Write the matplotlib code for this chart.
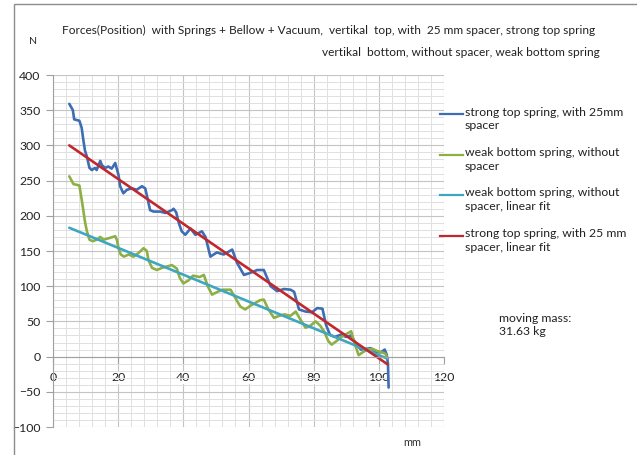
import matplotlib.pyplot as plt
from matplotlib.lines import Line2D
from matplotlib.patches import Rectangle
from matplotlib.ticker import MultipleLocator

# strong top spring, with 25mm spacer (measured)
strong_x = [5.0, 5.5, 6.1, 6.5, 7.3, 8.1, 8.8, 9.3, 9.8, 10.4, 11.2, 11.9, 12.9, 13.4,
            14.5, 15.0, 16.0, 17.0, 18.0, 19.1, 20.1, 20.6, 21.6, 22.7, 24.2, 25.7,
            27.3, 28.3, 29.0, 29.8, 30.9, 32.9, 34.5, 36.5, 37.0, 37.8, 38.6, 39.5,
            40.6, 42.2, 43.7, 45.7, 46.8, 48.3, 50.3, 52.4, 55.0, 56.5, 58.6, 60.6,
            62.7, 64.7, 66.8, 68.8, 70.9, 72.9, 74.0, 75.5, 77.5, 79.5, 81.1, 82.7,
            83.8, 85.0, 86.5, 88.3, 90.0, 91.5, 93.0, 94.5, 96.0, 97.5, 99.0, 100.6,
            101.8, 102.4, 102.8, 103.0]
strong_y = [359, 355, 350, 337, 336, 335, 325, 308, 293, 284, 268, 265, 268, 265,
            278, 272, 268, 270, 267, 275, 258, 242, 232, 237, 239, 237,
            242, 239, 225, 208, 206, 206, 204, 208, 210, 205, 190, 178,
            173, 182, 173, 178, 170, 142, 148, 145, 152, 133, 116, 119,
            123, 123, 100, 93, 96, 95, 92, 67, 64, 63, 69, 68,
            45, 31, 28, 31, 28, 30, 18, 10, 11, 12, 7, 6,
            10, 3, -10, -44]

# weak bottom spring, without spacer (measured)
weak_x = [5.0, 6.3, 7.3, 8.1, 8.8, 9.3, 9.8, 10.4, 11.2, 12.2, 13.4, 14.5, 15.5, 17.0,
          19.1, 19.6, 20.1, 20.8, 21.8, 23.2, 24.7, 26.2, 27.8, 28.8, 29.3, 30.4,
          31.9, 33.4, 35.0, 36.5, 38.0, 38.9, 40.0, 41.5, 43.0, 45.0, 46.3, 47.5,
          48.8, 50.5, 52.0, 54.5, 56.0, 57.5, 59.0, 60.5, 62.0, 63.5, 64.7, 66.0,
          67.8, 69.5, 71.0, 72.9, 74.5, 76.0, 77.5, 79.0, 80.6, 82.0, 83.2, 84.5,
          85.5, 87.0, 88.5, 90.0, 91.5, 92.5, 93.8, 95.0, 96.5, 98.0, 99.5, 101.0,
          102.0, 102.7]
weak_y = [256, 245, 244, 243, 223, 208, 192, 178, 166, 164, 166, 170, 166, 168,
          171, 166, 154, 145, 142, 145, 142, 147, 154, 150, 137, 126,
          123, 126, 128, 130, 125, 112, 104, 108, 115, 113, 116, 100,
          88, 92, 95, 95, 83, 71, 67, 72, 76, 80, 81, 68,
          55, 58, 60, 58, 64, 52, 41, 44, 50, 44, 36, 22,
          17, 22, 28, 32, 36, 20, 2, 6, 10, 11, 8, 6,
          4, -2]

# linear fits
fit_x = [5.0, 102.7]
weak_fit = [183, -3]
strong_fit = [300, -11]

labels = ['strong top spring, with 25mm\nspacer',
          'weak bottom spring, without\nspacer',
          'weak bottom spring, without\nspacer, linear fit',
          'strong top spring, with 25 mm\nspacer, linear fit']
colors = ['#3F6DB3', '#8DB045', '#3FA6C0', '#C0282D']

plt.rcParams['font.family'] = ['Lato', 'DejaVu Sans']

W, H = 637, 455
fig = plt.figure(figsize=(W / 100, H / 100), dpi=100)
ax = fig.add_axes([53 / W, 1 - 427 / H, 391 / W, 352 / H])

kw = dict(lw=1.9, solid_joinstyle='round', solid_capstyle='round')
ax.plot(strong_x, strong_y, color=colors[0], **kw)
ax.plot(weak_x, weak_y, color=colors[1], **kw)
ax.plot(fit_x, weak_fit, color=colors[2], **kw)
ax.plot(fit_x, strong_fit, color=colors[3], **kw)

ax.set_xlim(0, 120)
ax.set_ylim(-100, 400)
ax.xaxis.set_major_locator(MultipleLocator(20))
ax.xaxis.set_minor_locator(MultipleLocator(4))
ax.yaxis.set_major_locator(MultipleLocator(50))
ax.yaxis.set_minor_locator(MultipleLocator(10))
ax.grid(which='major', color='#C4C4C4', lw=0.8)
ax.grid(which='minor', color='#E0E0E0', lw=0.7)
ax.set_axisbelow(True)

for s in ['top', 'right']:
    ax.spines[s].set_visible(False)
ax.spines['bottom'].set_position(('data', 0))
ax.spines['bottom'].set_color('#A0A0A0')
ax.spines['left'].set_color('#A0A0A0')
ax.tick_params(which='minor', length=0)
ax.tick_params(axis='y', which='major', length=5, color='#A0A0A0', labelsize=8.8, pad=4,
               labelcolor='#222222')
ax.tick_params(axis='x', which='major', length=5, color='#A0A0A0', labelsize=8.8, pad=6,
               labelcolor='#222222')
for t in ax.get_xticklabels():
    t.set_bbox(dict(fc='white', ec='none', pad=0.5))

# outer chart border
fig.add_artist(Rectangle((14 / W, -0.1), 1.2, 1 - 4 / H + 0.1, transform=fig.transFigure,
                         fill=False, ec='#8C8C8C', lw=1))

fig.text(33 / W, 1 - 42 / H, 'N', fontsize=7.5, ha='center', va='center', color='#333333')
fig.text(62 / W, 1 - 30 / H,
         'Forces(Position)  with Springs + Bellow + Vacuum,  vertikal  top, with  25 mm spacer, strong top spring',
         fontsize=8.6, ha='left', va='center', color='#222222')
fig.text(600 / W, 1 - 52 / H, 'vertikal  bottom, without spacer, weak bottom spring',
         fontsize=8.6, ha='right', va='center', color='#222222')
fig.text(412 / W, 1 - 443 / H, 'mm', fontsize=7.8, ha='center', va='center', color='#333333')
fig.text(499 / W, 1 - 313 / H, 'moving mass:\n31.63 kg', fontsize=8.8, ha='left', va='top',
         color='#222222', linespacing=1.25)

# legend
for i, (lab, c) in enumerate(zip(labels, colors)):
    y = 1 - (114 + 40.5 * i) / H
    fig.add_artist(Line2D([440 / W, 463 / W], [y, y], transform=fig.transFigure, color=c, lw=1.6))
    fig.text(465 / W, y + 7.5 / H, lab, fontsize=8.8, ha='left', va='top', color='#222222',
             linespacing=1.3)

fig.savefig('out.png', dpi=100)
